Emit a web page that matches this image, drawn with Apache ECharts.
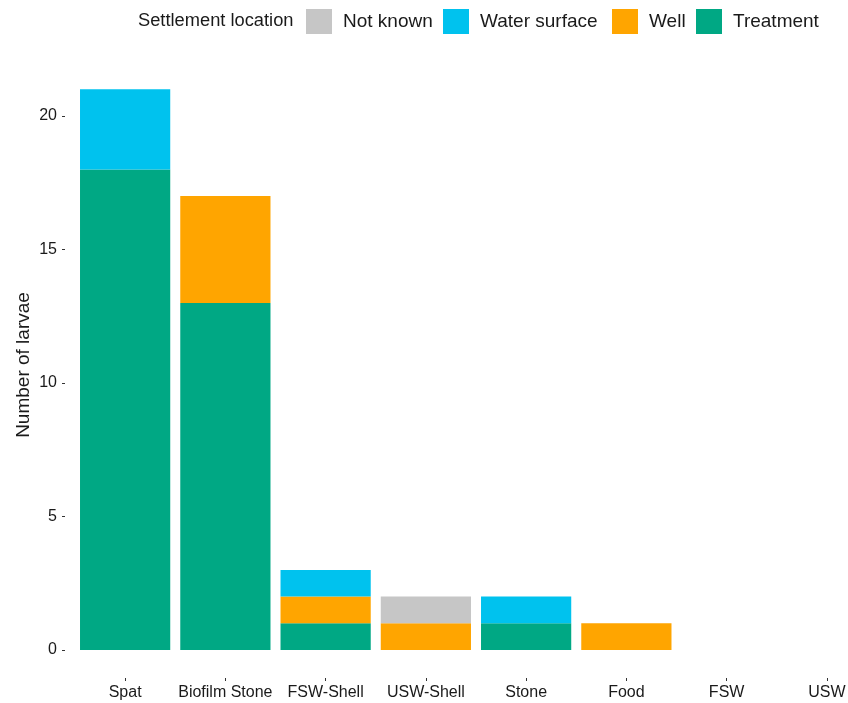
<!DOCTYPE html>
<html>
<head>
<meta charset="utf-8">
<script src="https://cdn.jsdelivr.net/npm/echarts@6/dist/echarts.min.js"></script>
<style>
html,body{margin:0;padding:0;background:#fff;overflow:hidden;width:848px;height:703px;}
#chart{width:900px;height:703px;}
</style>
</head>
<body>
<div id="chart"></div>
<script>
const categories = ["Spat", "Biofilm Stone", "FSW-Shell", "USW-Shell", "Stone", "Food", "FSW", "USW"];
const treatment = [18, 13, 1, 0, 1, 0, 0, 0];
const well = [0, 4, 1, 1, 0, 1, 0, 0];
const waterSurface = [3, 0, 1, 0, 1, 0, 0, 0];
const notKnown = [0, 0, 0, 1, 0, 0, 0, 0];
const yTicks = [0, 5, 10, 15, 20];

const colors = {
  "Not known": "#C6C6C6",
  "Water surface": "#00C2EE",
  "Well": "#FFA500",
  "Treatment": "#00A884"
};
const FONT = "Liberation Sans, Arial, sans-serif";

const chart = echarts.init(document.getElementById('chart'));

function mkSeries(name, data) {
  return {
    name: name, type: 'bar', stack: 'total', data: data,
    barCategoryGap: '10%',
    itemStyle: { color: colors[name] },
    emphasis: { disabled: true }
  };
}

const legendNames = ["Not known", "Water surface", "Well", "Treatment"];
const legendLefts = [306, 443, 612, 696];

const option = {
  animation: false,
  backgroundColor: '#fff',
  textStyle: { fontFamily: FONT },
  grid: { left: 75, top: 61.3, width: 802, height: 616.7, containLabel: false },
  legend: legendNames.map((n, i) => ({
    data: [n],
    left: legendLefts[i],
    top: 9,
    padding: 0,
    itemWidth: 26,
    itemHeight: 25,
    itemGap: 0,
    icon: 'rect',
    selectedMode: false,
    textStyle: { fontSize: 19, color: '#1a1a1a', fontFamily: FONT, padding: [0, 0, 0, 6] }
  })),
  graphic: [
    {
      type: 'text', left: 138, top: 12,
      style: { text: 'Settlement location', font: '18.3px ' + FONT, fill: '#1a1a1a' }
    },
    {
      type: 'text', x: 24, y: 365, rotation: Math.PI / 2,
      style: { text: 'Number of larvae', font: '19px ' + FONT, fill: '#1a1a1a', align: 'center', verticalAlign: 'middle' }
    }
  ],
  xAxis: {
    type: 'category',
    data: categories,
    axisLine: { show: false, onZero: false },
    axisTick: { show: true, alignWithLabel: true, length: 3, lineStyle: { color: '#333', width: 1 } },
    axisLabel: { fontSize: 16, color: '#1a1a1a', margin: 7, fontFamily: FONT, interval: 0 }
  },
  yAxis: {
    type: 'value',
    min: -1.05, max: 22.05,
    offset: 10,
    splitLine: { show: false },
    axisLine: { show: false },
    axisTick: { show: true, length: 3, customValues: yTicks, lineStyle: { color: '#333', width: 1 } },
    axisLabel: {
      fontSize: 16, color: '#1a1a1a', margin: 8, fontFamily: FONT,
      customValues: yTicks,
      formatter: v => String(v)
    }
  },
  series: [
    mkSeries("Treatment", treatment),
    mkSeries("Well", well),
    mkSeries("Water surface", waterSurface),
    mkSeries("Not known", notKnown)
  ]
};
chart.setOption(option);
</script>
</body>
</html>
